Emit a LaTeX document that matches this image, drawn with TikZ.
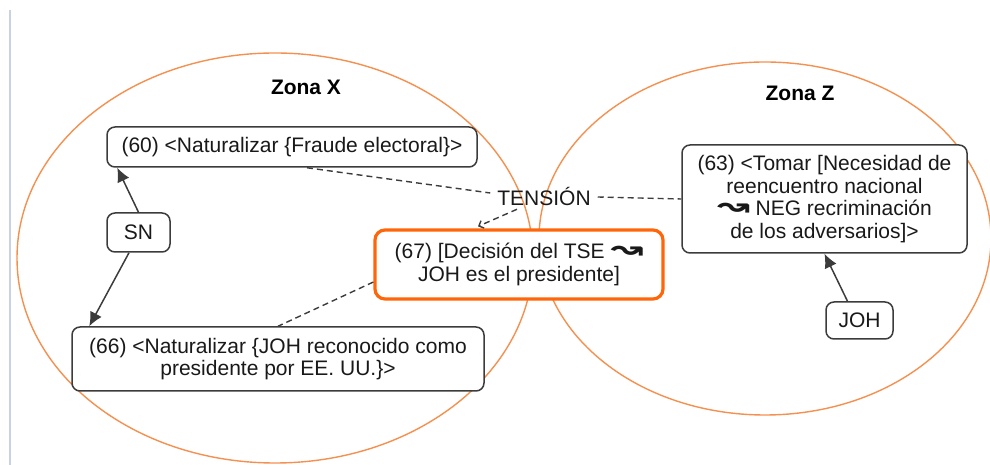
\documentclass[tikz,border=0pt]{standalone}
\usepackage{fontspec}
\setmainfont{Liberation Sans}
\newfontfamily\symfont{DejaVu Sans}
\usetikzlibrary{arrows.meta}
\definecolor{zonaorange}{RGB}{245,145,80}
\definecolor{tseorange}{RGB}{255,102,10}
\definecolor{boxgray}{RGB}{60,60,60}
\definecolor{pagerule}{RGB}{200,210,228}
\newcommand{\wavearrow}{\scalebox{1.5}[1.1]{\symfont\bfseries\fontsize{13}{13}\selectfont ↝}}

\begin{document}
\begin{tikzpicture}[x=0.5pt,y=0.5pt,
  font=\fontsize{10.5}{11.25}\selectfont,
  >={Latex[length=7pt,width=6.5pt]},
  zone/.style={draw=zonaorange,line width=0.7pt},
  prop/.style={draw=boxgray,line width=0.75pt,rounded corners=4pt,fill=white,
    align=center,inner sep=2pt,text=black!90},
  tse/.style={prop,draw=tseorange,line width=1.6pt,rounded corners=5pt},
  tie/.style={draw=boxgray,line width=0.7pt,dash pattern=on 3pt off 2pt}]
  \useasboundingbox (0,0) rectangle (990,465);
  \draw[pagerule,line width=1pt] (10,455) -- (10,0);
  \draw[zone] (275,207) ellipse [x radius=258, y radius=205];
  \draw[zone] (765,226.5) ellipse [x radius=226, y radius=176.5];

  \node[font=\fontsize{10.5}{11.25}\selectfont\bfseries] (zx) at (306,378) {Zona X};
  \node[font=\fontsize{10.5}{11.25}\selectfont\bfseries] (zz) at (800,372) {Zona Z};
  \node[text=black!90] (tension) at (544,268) {TENSIÓN};

  \node[prop,minimum width=185pt,minimum height=20pt] (n60) at (292,318)
    {(60) <Naturalizar \{Fraude electoral\}>};
  \node[prop,minimum width=31.5pt,minimum height=19.5pt] (sn) at (138.5,232.5) {SN};
  \node[prop,minimum width=206pt,minimum height=32pt] (n66) at (278,106)
    {(66) <Naturalizar \{JOH reconocido como\\presidente por EE. UU.\}>};
  \node[tse,minimum width=144pt,minimum height=34.5pt] (n67) at (519,200.5)
    {(67) [Decisión del TSE \wavearrow\\JOH es el presidente]};
  \node[prop,minimum width=142.5pt,minimum height=54pt] (n63) at (824.5,266)
    {(63) <Tomar [Necesidad de\\reencuentro nacional\\\wavearrow{} NEG recriminación\\de los adversarios]>};
  \node[prop,minimum width=33.5pt,minimum height=18.5pt] (joh) at (859.5,144.5) {JOH};

  \draw[tie] ([xshift=7.5pt]n60.south) to ([yshift=2pt]tension.west);
  \draw[tie] (tension.east) to (n63.west);
  \draw[tie,-{Straight Barb[length=2pt,width=4pt]}] ([xshift=-13.5pt,yshift=2pt]tension.south) to ([xshift=-20.5pt,yshift=1pt]n67.north);
  \draw[tie] ([yshift=-8.75pt]n67.west) to (n66.north);

  \draw[->,line width=0.75pt,boxgray] (sn.north) to ([xshift=5.5pt]n60.south west);
  \draw[->,line width=0.75pt,boxgray] ([xshift=-4.75pt]sn.south) to ([xshift=9pt]n66.north west);
  \draw[->,line width=0.75pt,boxgray] ([xshift=-6pt]joh.north) to (n63.south);
\end{tikzpicture}
\end{document}
